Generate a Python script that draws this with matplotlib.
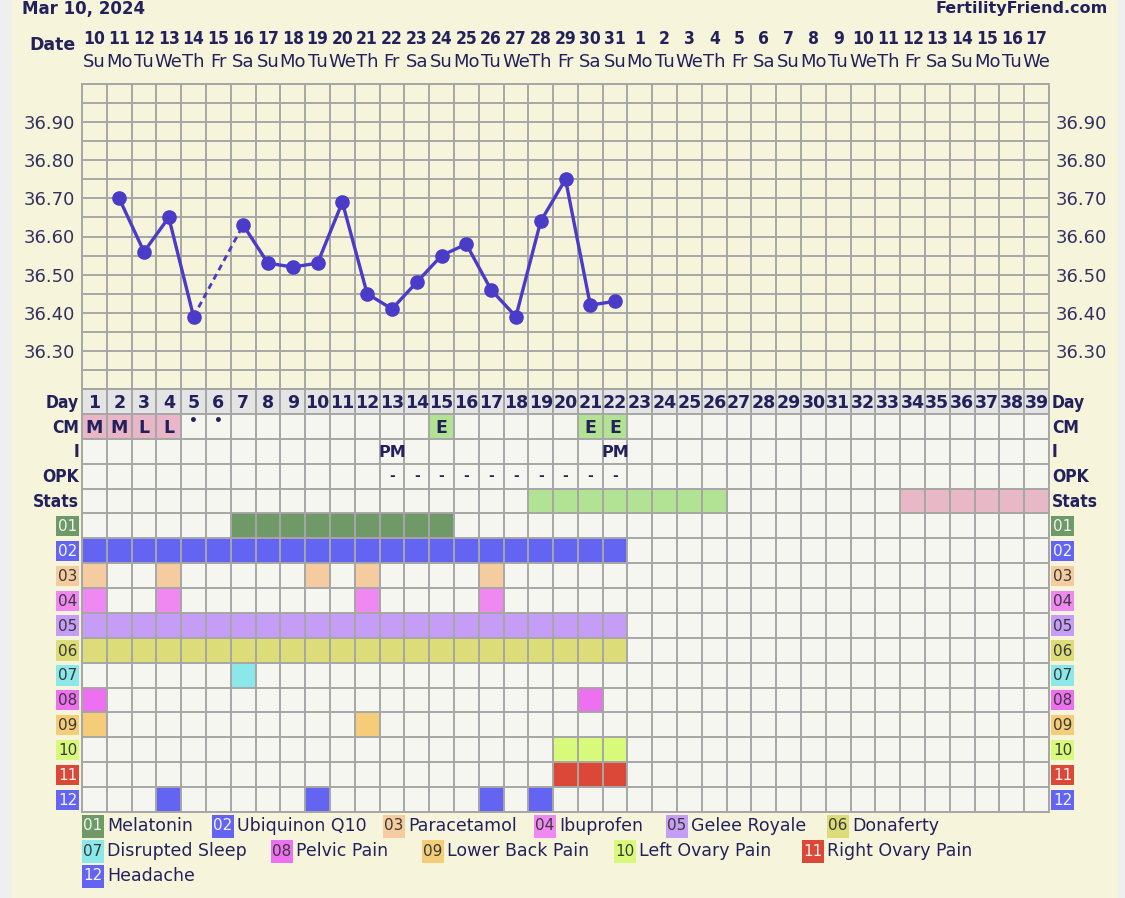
import numpy as np
import matplotlib
matplotlib.use("Agg")
import matplotlib.pyplot as plt
from matplotlib.patches import Rectangle
from matplotlib.transforms import blended_transform_factory as blend

# ---------------- data ----------------
chart_title = "Mar 10, 2024"
site_name = "FertilityFriend.com"
date_numbers = list(range(10, 32)) + list(range(1, 18))
weekday_names = ["Su", "Mo", "Tu", "We", "Th", "Fr", "Sa"]
cycle_days = list(range(1, 40))

temp_days = list(range(1, 23))
temps = [np.nan, 36.70, 36.56, 36.65, 36.39, np.nan, 36.63, 36.53, 36.52, 36.53,
         36.69, 36.45, 36.41, 36.48, 36.55, 36.58, 36.46, 36.39, 36.64, 36.75,
         36.42, 36.43]
temp_ticks = [36.30, 36.40, 36.50, 36.60, 36.70, 36.80, 36.90]

row_labels = ["Day", "CM", "I", "OPK", "Stats"]

cm_days = [1, 2, 3, 4, 5, 6, 15, 21, 22]
cm_marks = ["M", "M", "L", "L", "•", "•", "E", "E", "E"]
i_days = [13, 22]
i_marks = ["PM", "PM"]
opk_days = list(range(13, 23))
opk_marks = ["-"] * 10
stats_green_days = list(range(19, 27))
stats_pink_days = list(range(34, 40))

med_codes = ["01", "02", "03", "04", "05", "06", "07", "08", "09", "10", "11", "12"]
med_names = ["Melatonin", "Ubiquinon Q10", "Paracetamol", "Ibuprofen", "Gelee Royale",
             "Donaferty", "Disrupted Sleep", "Pelvic Pain", "Lower Back Pain",
             "Left Ovary Pain", "Right Ovary Pain", "Headache"]
melatonin_days = list(range(7, 16))
ubiquinon_days = list(range(1, 23))
paracetamol_days = [1, 4, 10, 12, 17]
ibuprofen_days = [1, 4, 12, 17]
gelee_days = list(range(1, 23))
donaferty_days = list(range(1, 23))
sleep_days = [7]
pelvic_days = [1, 21]
backpain_days = [1, 12]
left_ovary_days = [20, 21, 22]
right_ovary_days = [20, 21, 22]
headache_days = [4, 10, 17, 19]

# ---------------- styles ----------------
W, H = 1125, 898
BEIGE = "#f7f4dc"
NAVY = "#23215c"
LINE = "#4a3bc8"
GRID = "#a6a6a6"
CELL = "#f6f6f1"
DAYBG = "#e4e4e4"
CM_PINK = "#e8b6c6"
CM_GREEN = "#b2e294"
med_colors = ["#6f9a68", "#6464f2", "#f5cc9f", "#ef88f0", "#c59cf6", "#dcdc78",
              "#8ae8ea", "#ec70f0", "#f5cc78", "#d8fa7a", "#dc4838", "#6464f2"]
med_text = ["#eef3ee", "#f4f4ff", "#3a3a3a", "#3a3a3a", "#3a3a3a", "#3a3a3a",
            "#3a3a3a", "#3a3a3a", "#3a3a3a", "#3a3a3a", "#f8f0ee", "#f4f4ff"]
med_days = [melatonin_days, ubiquinon_days, paracetamol_days, ibuprofen_days,
            gelee_days, donaferty_days, sleep_days, pelvic_days, backpain_days,
            left_ovary_days, right_ovary_days, headache_days]

plt.rcParams["font.family"] = ["DejaVu Sans"]


def fx(px):
    return px / W


def fy(py):
    return 1 - py / H


fig = plt.figure(figsize=(W / 100, H / 100), dpi=100)
fig.patch.set_facecolor("#efefef")
fig.add_artist(Rectangle((fx(12), 0), fx(1106), 1, transform=fig.transFigure,
                         facecolor=BEIGE, edgecolor="none", zorder=-10))

GL, GR, GT, GM, GB = 82, 1049, 84, 389, 812
ax_t = fig.add_axes([fx(GL), fy(GM), (GR - GL) / W, (GM - GT) / H])
ax_g = fig.add_axes([fx(GL), fy(GB), (GR - GL) / W, (GB - GM) / H])

ncol = len(cycle_days)
for ax in (ax_t, ax_g):
    ax.set_xlim(0.5, ncol + 0.5)
    for s in ax.spines.values():
        s.set_color(GRID)
        s.set_linewidth(1.4)
    ax.set_xticks([])

# ---------------- temperature panel ----------------
ax_t.set_facecolor(BEIGE)
ax_t.set_ylim(36.20, 37.00)
for xb in np.arange(0.5, ncol + 0.51, 1):
    ax_t.axvline(xb, color=GRID, lw=1.4, zorder=1)
for yb in np.arange(36.20, 37.001, 0.05):
    ax_t.axhline(yb, color=GRID, lw=1.4, zorder=1)
ax_t.set_yticks(temp_ticks)
ax_t.set_yticklabels([f"{t:.2f}" for t in temp_ticks])
ax_t.tick_params(axis="y", length=0, labelsize=13, labelcolor="#33325f",
                 labelleft=True, labelright=True, pad=5)

td = np.array(temp_days, dtype=float)
tv = np.array(temps, dtype=float)
ax_t.plot(td, tv, color=LINE, lw=2.4, zorder=3, solid_capstyle="round")
valid = np.where(~np.isnan(tv))[0]
for a, b in zip(valid[:-1], valid[1:]):
    if b - a > 1:
        ax_t.plot([td[a], td[b]], [tv[a], tv[b]], color=LINE, lw=2.0,
                  ls=(0, (2.2, 1.6)), zorder=3)
ax_t.plot(td, tv, ls="none", marker="o", ms=9.5, color=LINE, zorder=4)

# header
trh = blend(ax_t.transData, fig.transFigure)
for i, d in enumerate(date_numbers):
    ax_t.text(cycle_days[i], fy(39), str(d), transform=trh, ha="center", va="center",
              fontsize=12.5, fontweight="bold", color=NAVY, fontstretch="condensed")
    ax_t.text(cycle_days[i], fy(62), weekday_names[i % 7], transform=trh, ha="center",
              va="center", fontsize=13, color=NAVY)
fig.text(fx(76), fy(45), "Date", ha="right", va="center", fontsize=12.5,
         fontweight="bold", color=NAVY)
fig.text(fx(22), fy(9), chart_title, ha="left", va="center", fontsize=12,
         fontweight="bold", color=NAVY)
fig.text(fx(1108), fy(9), site_name, ha="right", va="center", fontsize=11.5,
         fontweight="bold", color=NAVY)

# ---------------- lower grid ----------------
nrows = len(row_labels) + len(med_codes)
ax_g.set_ylim(nrows, 0)
ax_g.set_yticks([])
ax_g.set_facecolor(CELL)


def fill(row, days, color):
    ax_g.barh([row + 0.5] * len(days), [1] * len(days),
              left=[d - 0.5 for d in days], height=1, color=color, zorder=1)


fill(0, cycle_days, DAYBG)
for d in cycle_days:
    ax_g.text(d, 0.55, str(d), ha="center", va="center", fontsize=12.5,
              fontweight="bold", color=NAVY, zorder=5)

for d, m in zip(cm_days, cm_marks):
    if m in ("M", "L"):
        fill(1, [d], CM_PINK)
    elif m == "E":
        fill(1, [d], CM_GREEN)
    if m == "•":
        ax_g.text(d, 1.3, m, ha="center", va="center", fontsize=10,
                  fontweight="bold", color=NAVY, zorder=5)
    else:
        ax_g.text(d, 1.55, m, ha="center", va="center", fontsize=12.5,
                  fontweight="bold", color=NAVY, zorder=5)
for d, m in zip(i_days, i_marks):
    ax_g.text(d, 2.55, m, ha="center", va="center", fontsize=11.5,
              fontweight="bold", color=NAVY, zorder=5)
for d, m in zip(opk_days, opk_marks):
    ax_g.text(d, 3.5, m, ha="center", va="center", fontsize=10,
              fontweight="bold", color=NAVY, zorder=5)
fill(4, stats_green_days, "#b2e294")
fill(4, stats_pink_days, "#e8b8c6")

base = len(row_labels)
for k, (days, col) in enumerate(zip(med_days, med_colors)):
    fill(base + k, days, col)

for xb in np.arange(0.5, ncol + 0.51, 1):
    ax_g.axvline(xb, color=GRID, lw=1.4, zorder=3)
for yb in range(nrows + 1):
    ax_g.axhline(yb, color=GRID, lw=1.4, zorder=3)

# row labels
trg = blend(ax_g.transAxes, ax_g.transData)
aw = GR - GL
for r, lab in enumerate(row_labels):
    yy = r + 0.55
    ax_g.text((79 - GL) / aw, yy, lab, transform=trg, ha="right", va="center",
              fontsize=12.5, fontweight="bold", color=NAVY, fontstretch="condensed")
    ax_g.text((1052 - GL) / aw, yy, lab, transform=trg, ha="left", va="center",
              fontsize=12.5, fontweight="bold", color=NAVY, fontstretch="condensed")
for k, code in enumerate(med_codes):
    r = base + k
    for x0 in (56, 1051):
        ax_g.add_patch(Rectangle(((x0 - GL) / aw, r + 0.1), 23 / aw, 0.82,
                                 transform=trg, facecolor=med_colors[k],
                                 edgecolor="none", clip_on=False))
        ax_g.text((x0 + 11.5 - GL) / aw, r + 0.53, code, transform=trg,
                  ha="center", va="center", fontsize=11, color=med_text[k])

# ---------------- legend ----------------
legend_x = [82, 212, 383, 534, 666, 827, 82, 271, 422, 614, 802, 82]
legend_y = [826, 826, 826, 826, 826, 826, 851, 851, 851, 851, 851, 876]
for k, (code, name) in enumerate(zip(med_codes, med_names)):
    x0, y0 = legend_x[k], legend_y[k]
    fig.add_artist(Rectangle((fx(x0), fy(y0 + 11.5)), 22 / W, 23 / H,
                             transform=fig.transFigure, facecolor=med_colors[k],
                             edgecolor="none"))
    fig.text(fx(x0 + 11), fy(y0), code, ha="center", va="center", fontsize=11,
             color=med_text[k])
    fig.text(fx(x0 + 25), fy(y0), name, ha="left", va="center", fontsize=12.5,
             color=NAVY)

fig.savefig("out.png", dpi=100, facecolor=fig.get_facecolor())
